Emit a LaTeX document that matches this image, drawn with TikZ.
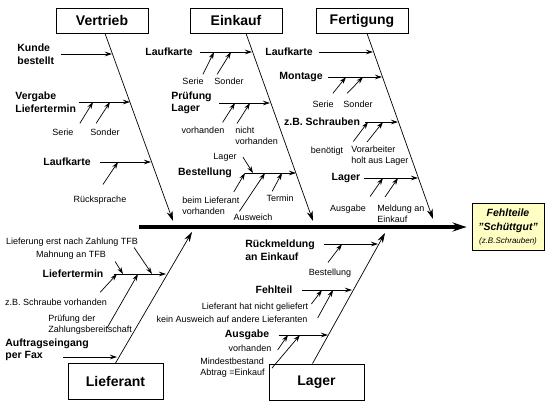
\documentclass[tikz,border=0pt]{standalone}
\usepackage{fontspec}
\setmainfont{Liberation Sans}
\usetikzlibrary{arrows.meta}
\definecolor{effectfill}{RGB}{255,255,196}

\begin{document}
\begin{tikzpicture}[x=1pt,y=-1pt,line width=.7pt,
  cat/.style={draw,line width=.8pt,minimum width=92pt,minimum height=25pt,inner sep=0pt,font=\fontsize{14}{16}\selectfont\bfseries},
  cause/.style={inner sep=1pt,align=left,font=\fontsize{10.5}{12.5}\selectfont\bfseries},
  sub/.style={inner sep=1pt,align=left,font=\fontsize{9}{11}\selectfont},
  bone/.style={-{Stealth[length=10pt,width=6pt]}},
  arr/.style={-{Stealth[length=7pt,width=4.5pt]}}]
\useasboundingbox (0,0) rectangle (553,410);

% Wirkung und Hauptgraete
\node[draw,line width=.8pt,fill=effectfill,minimum width=72pt,minimum height=47pt,inner sep=1pt,align=center,font=\fontsize{10.5}{13}\selectfont\bfseries\itshape] (effect) at (508,227) {Fehlteile\\[1pt]"Schüttgut"\\{\fontsize{8}{10}\selectfont\mdseries(z.B.Schrauben)}};
\coordinate (spine) at (139,227);
\draw[line width=3.5pt,-{Stealth[length=14pt,width=9pt]},shorten >=5pt] (spine) -- (effect.west);

% Kategorien
\node[cat] (vertrieb) at (102,20.5) {Vertrieb};
\node[cat] (einkauf) at (236,20.5) {Einkauf};
\node[cat] (fertigung) at (362,20.5) {Fertigung};
\node[cat,minimum width=95pt,minimum height=36pt] (lieferant) at (115.5,381.5) {Lieferant};
\node[cat,minimum width=95pt,minimum height=36pt] (lager) at (316.5,382) {Lager};

\coordinate (vtip) at (173,221);
\coordinate (etip) at (313,221);
\coordinate (ftip) at (433,219);
\coordinate (ltip) at (192,232);
\coordinate (gtip) at (385,233);
\draw[bone] ([xshift=3pt]vertrieb.south) -- (vtip);
\draw[bone] ([xshift=10pt]einkauf.south) -- (etip);
\draw[bone] ([xshift=5pt]fertigung.south) -- (ftip);
\draw[bone] (lieferant.north) -- (ltip);
\draw[bone] ([xshift=-4pt]lager.north) -- (gtip);

% Vertrieb
\node[cause,anchor=west] (kunde) at (16,54) {Kunde\\bestellt};
\coordinate (kundeT) at (112,54);
\draw[arr] ([xshift=6pt]kunde.east) -- (kundeT);
\node[cause,anchor=west] (vergabe) at (14,102) {Vergabe\\Liefertermin};
\coordinate (vergabeT) at (130,102);
\draw[arr] ([xshift=2pt]vergabe.east) -- (vergabeT);
\node[sub] (serieV) at (63,132) {Serie};
\node[sub] (sonderV) at (105,132) {Sonder};
\draw[arr] ([xshift=5pt,yshift=4pt]serieV.north east) -- ([xshift=-37pt]vergabeT);
\draw[arr] ([xshift=7pt,yshift=4pt]sonderV.north west) -- ([xshift=-20pt]vergabeT);
\node[cause] (laufV) at (67,162) {Laufkarte};
\coordinate (laufVT) at (151,162);
\draw[arr] ([xshift=8pt]laufV.east) -- (laufVT);
\node[sub] (rueck) at (100,200) {Rücksprache};
\draw[arr] ([xshift=3pt,yshift=10pt]rueck.north) -- ([xshift=-33pt]laufVT);

% Einkauf
\node[cause] (laufE) at (169,52) {Laufkarte};
\coordinate (laufET) at (252,52);
\draw[arr] ([xshift=6pt]laufE.east) -- (laufET);
\node[sub] (serieE) at (193,81) {Serie};
\node[sub] (sonderE) at (229,81) {Sonder};
\draw[arr] ([xshift=-2pt,yshift=2pt]serieE.north east) -- ([xshift=-38pt]laufET);
\draw[arr] ([xshift=4pt,yshift=2pt]sonderE.north west) -- ([xshift=-21pt]laufET);
\node[cause,anchor=west] (pruef) at (170,103) {Prüfung\\Lager};
\coordinate (pruefT) at (270,103);
\draw[arr] ([xshift=6pt]pruef.east) -- (pruefT);
\node[sub] (vorhE) at (203,130) {vorhanden};
\node[sub,anchor=north west] (nvorh) at (234,125.5) {nicht\\vorhanden};
\draw[arr] ([xshift=-3pt,yshift=3pt]vorhE.north east) -- ([xshift=-35pt]pruefT);
\draw[arr] ([xshift=3pt,yshift=2pt]nvorh.north west) -- ([xshift=-20pt]pruefT);
\node[cause] (best) at (205,173) {Bestellung};
\coordinate (bestT) at (296,173);
\draw[arr] ([xshift=12pt]best.east) -- (bestT);
\node[sub] (lagerE) at (225,157) {Lager};
\draw[arr] ([xshift=5pt]lagerE.east) -- ([xshift=-43pt]bestT);
\node[sub,anchor=north west] (beim) at (181,196) {beim Lieferant\\vorhanden};
\node[sub] (ausw) at (253,217) {Ausweich};
\node[sub] (termin) at (280,198) {Termin};
\draw[arr] ([xshift=-7pt,yshift=4pt]beim.north east) -- ([xshift=-51pt]bestT);
\draw[arr] ([xshift=7pt,yshift=1pt]ausw.north west) -- ([xshift=-31pt]bestT);
\draw[arr] ([xshift=7pt,yshift=2pt]termin.north west) -- ([xshift=-14pt]bestT);

% Fertigung
\node[cause] (laufF) at (289,52) {Laufkarte};
\coordinate (laufFT) at (373,52);
\draw[arr] ([xshift=5pt]laufF.east) -- (laufFT);
\node[cause] (mont) at (301,77) {Montage};
\coordinate (montT) at (382,77);
\draw[arr] ([xshift=4pt]mont.east) -- (montT);
\node[sub] (serieF) at (323,104) {Serie};
\node[sub] (sonderF) at (358,104) {Sonder};
\draw[arr] ([xshift=-2pt,yshift=6pt]serieF.north east) -- ([xshift=-36pt]montT);
\draw[arr] ([xshift=5pt,yshift=6pt]sonderF.north west) -- ([xshift=-19pt]montT);
\node[cause] (zb) at (322,122) {z.B. Schrauben};
\coordinate (zbT) at (398,122);
\draw[arr] ([xshift=4pt]zb.east) -- (zbT);
\node[sub] (benoe) at (327,151) {benötigt};
\node[sub,anchor=north west] (vorarb) at (350,145) {Vorarbeiter\\holt aus Lager};
\draw[arr] ([xshift=9pt,yshift=4pt]benoe.north east) -- ([xshift=-30pt]zbT);
\draw[arr] ([xshift=17pt,yshift=3pt]vorarb.north west) -- ([xshift=-15pt]zbT);
\node[cause] (lagerF) at (346,178) {Lager};
\coordinate (lagerFT) at (418,178);
\draw[arr] ([xshift=2pt]lagerF.east) -- (lagerFT);
\node[sub] (ausgF) at (348,209) {Ausgabe};
\node[sub,anchor=north west] (meld) at (376,204) {Meldung an\\Einkauf};
\draw[arr] ([xshift=3pt,yshift=7pt]ausgF.north east) -- ([xshift=-35pt]lagerFT);
\draw[arr] ([xshift=9pt,yshift=7pt]meld.north west) -- ([xshift=-20pt]lagerFT);

% Lieferant
\node[cause] (lterm) at (73,274) {Liefertermin};
\coordinate (ltermT) at (166,274);
\draw[arr] ([xshift=9pt]lterm.east) -- (ltermT);
\node[sub] (lief1) at (72,242) {Lieferung erst nach Zahlung TFB};
\node[sub] (mahn) at (71,255) {Mahnung an TFB};
\draw[arr] ([xshift=-5pt]lief1.south east) -- ([xshift=-14pt]ltermT);
\draw[arr] ([xshift=8pt,yshift=-1pt]mahn.south east) -- ([xshift=-43pt]ltermT);
\node[sub] (zbs) at (56,302) {z.B. Schraube vorhanden};
\node[sub,anchor=north west] (pruefZ) at (47,314) {Prüfung der\\Zahlungsbereitschaft};
\draw[arr] ([xshift=-8pt,yshift=5pt]zbs.north east) -- ([xshift=-49pt]ltermT);
\draw[arr] ([xshift=60pt,yshift=-14pt]pruefZ.north west) -- ([xshift=-28pt]ltermT);
\node[cause,anchor=west] (auftrag) at (4,350) {Auftragseingang\\per Fax};
\coordinate (auftragT) at (117,357);
\draw[arr] ([xshift=-27pt]auftrag.east |- auftragT) -- (auftragT);

% Lager
\node[cause,anchor=west] (rueckm) at (244,250) {Rückmeldung\\an Einkauf};
\coordinate (rueckT) at (378,244);
\draw[arr] ([xshift=8pt]rueckm.east |- rueckT) -- (rueckT);
\node[sub] (bestL) at (330,273) {Bestellung};
\draw[arr] ([xshift=-2pt,yshift=5pt]bestL.north) -- ([xshift=-36pt]rueckT);
\node[cause] (fehl) at (274,290) {Fehlteil};
\coordinate (fehlT) at (352,290);
\draw[arr] ([xshift=8pt]fehl.east) -- (fehlT);
\node[sub] (lnicht) at (255,307) {Lieferant hat nicht geliefert};
\node[sub] (kein) at (232,319) {kein Ausweich auf andere Lieferanten};
\draw[arr] ([xshift=2pt,yshift=3pt]lnicht.east) -- ([xshift=-30pt]fehlT);
\draw[arr] ([xshift=9pt,yshift=1pt]kein.east) -- ([xshift=-19pt]fehlT);
\node[cause] (ausgL) at (247,335) {Ausgabe};
\coordinate (ausgLT) at (328,335);
\draw[arr] ([xshift=8pt]ausgL.east) -- (ausgLT);
\node[sub] (vorhL) at (250,348) {vorhanden};
\node[sub,anchor=north west] (mind) at (199,357) {Mindestbestand\\Abtrag =Einkauf};
\draw[arr] ([xshift=5pt,yshift=-2pt]vorhL.east) -- ([xshift=-40pt]ausgLT);
\draw[arr] ([xshift=6pt]mind.east) -- ([xshift=-28pt]ausgLT);
\end{tikzpicture}
\end{document}
